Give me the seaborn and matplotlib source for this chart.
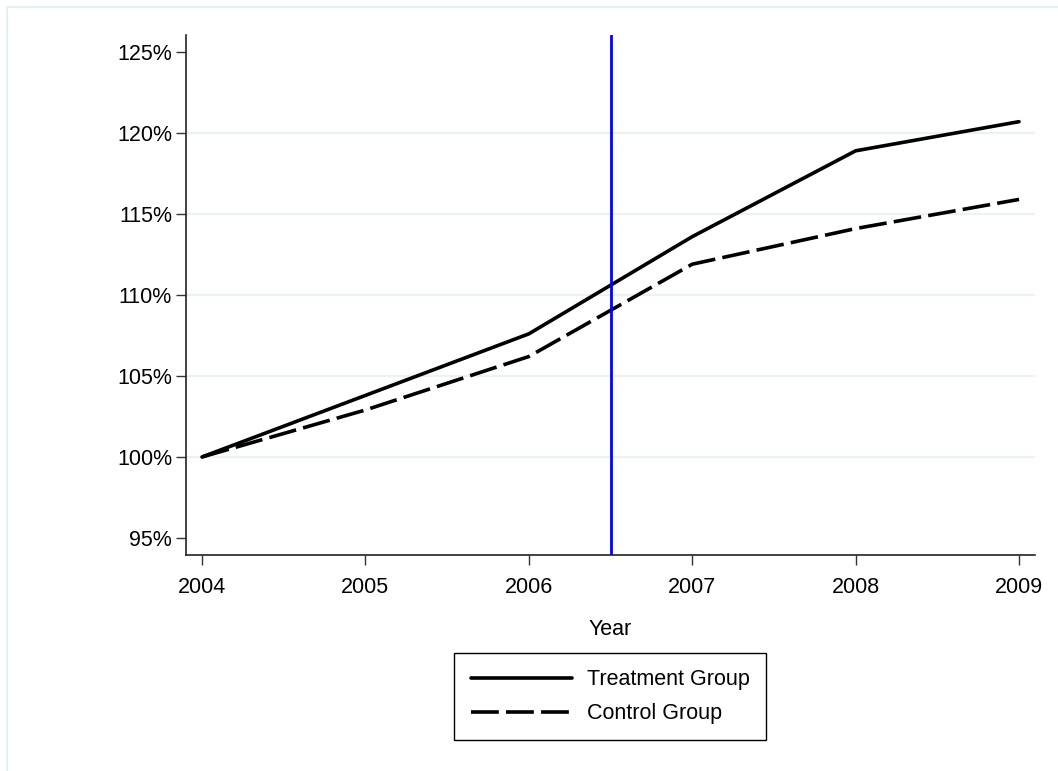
import numpy as np
import pandas as pd
import seaborn as sns
from matplotlib import pyplot as plt
from matplotlib.patches import Rectangle

#===== DATA =====================================
years = [2004, 2005, 2006, 2007, 2008, 2009]
treatment = [100.0, 103.8, 107.6, 113.6, 118.9, 120.7]
control = [100.0, 102.9, 106.2, 111.9, 114.1, 115.9]
y_ticks = [95, 100, 105, 110, 115, 120, 125]
policy_year = 2006.5

df = pd.DataFrame({
    "Year": years * 2,
    "Value": treatment + control,
    "Group": ["Treatment Group"] * len(years) + ["Control Group"] * len(years),
})

#===== PLOT =====================================
sns.set_style("white")
plt.rcParams["font.family"] = ["Liberation Sans", "DejaVu Sans"]
plt.rcParams["text.color"] = "black"
plt.rcParams["axes.labelcolor"] = "black"
plt.rcParams["xtick.color"] = "black"
plt.rcParams["ytick.color"] = "black"

fig = plt.figure(figsize=(10.58, 7.71), dpi=100)
ax = fig.add_axes([0.1758, 0.2802, 0.8025, 0.6744])

# light outer frame like the Stata graph region
fig.add_artist(Rectangle((0.0066, -0.2), 1.2, 0.2 + 0.9909, transform=fig.transFigure,
                         fill=False, edgecolor="#e6eff0", linewidth=1.5))

sns.lineplot(data=df, x="Year", y="Value", hue="Group", style="Group",
             palette=["black", "black"],
             dashes={"Treatment Group": "", "Control Group": (7.7, 2.0)},
             linewidth=2.6, ax=ax, zorder=3)

ax.axvline(policy_year, color="#0000ff", linewidth=2, zorder=4)

ax.set_xlim(2003.902, 2009.098)
ax.set_ylim(93.95, 126.05)
ax.set_xticks(years)
ax.set_yticks(y_ticks)
ax.set_yticklabels([f"{t}%" for t in y_ticks])
ax.tick_params(axis="both", labelsize=15.5, length=7, width=1, color="#333333",
               direction="out", left=True, bottom=True)
ax.tick_params(axis="x", pad=9)
ax.tick_params(axis="y", pad=3)

ax.grid(axis="y", color="#eaf2f3", linewidth=1.6)
ax.set_axisbelow(True)
gl = ax.get_ygridlines()
gl[0].set_visible(False)
gl[-1].set_visible(False)

for s in ["top", "right"]:
    ax.spines[s].set_visible(False)
for s in ["left", "bottom"]:
    ax.spines[s].set_color("#222222")
    ax.spines[s].set_linewidth(1.2)

ax.set_xlabel("Year", fontsize=15.5, labelpad=15)
ax.set_ylabel("")

handles, labels = ax.get_legend_handles_labels()
leg = ax.legend(handles, labels, loc="upper center", bbox_to_anchor=(0.4995, -0.189),
                ncol=1, fontsize=15.5, frameon=True, fancybox=False, edgecolor="black",
                framealpha=1, handlelength=4.7, handletextpad=0.7, borderpad=0.75,
                labelspacing=0.6, borderaxespad=0)
leg.get_frame().set_linewidth(1.0)

fig.savefig("out.png", dpi=100)
